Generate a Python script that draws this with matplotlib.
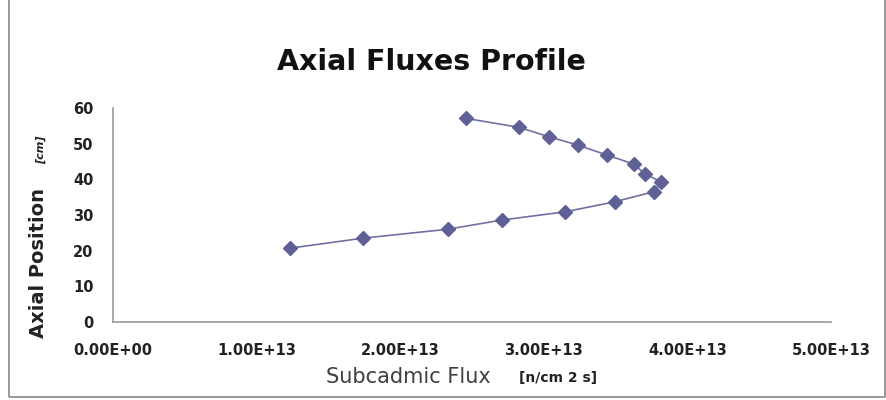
import matplotlib
matplotlib.use("Agg")
import matplotlib.pyplot as plt
from matplotlib.patches import Rectangle

flux = [2.456e13, 2.826e13, 3.035e13, 3.238e13, 3.44e13, 3.625e13, 3.706e13, 3.817e13,
        3.764e13, 3.493e13, 3.15e13, 2.71e13, 2.33e13, 1.74e13, 1.234e13]
position = [57.1, 54.6, 51.95, 49.6, 46.8, 44.3, 41.5, 39.3,
            36.5, 33.7, 30.9, 28.6, 26.0, 23.5, 20.7]
x_ticks = [0, 1e13, 2e13, 3e13, 4e13, 5e13]
x_tick_labels = ["0.00E+00", "1.00E+13", "2.00E+13", "3.00E+13", "4.00E+13", "5.00E+13"]
y_ticks = [0, 10, 20, 30, 40, 50, 60]

W, H = 887, 400
fig = plt.figure(figsize=(8.87, 4.0), dpi=100)
ax = fig.add_axes([113/W, 1-322/H, 718/W, 214/H])

ax.plot(flux, position, color="#6f70a3", linewidth=1.2, marker="D", markersize=7,
        markerfacecolor="#5f6096", markeredgecolor="#5f6096", zorder=3)

ax.set_xlim(0, 5e13)
ax.set_ylim(0, 60)
ax.set_xticks(x_ticks)
ax.set_xticklabels(x_tick_labels)
ax.set_yticks(y_ticks)
ax.tick_params(length=0, labelsize=10.5, colors="#222222")
ax.tick_params(axis="x", pad=15)
ax.tick_params(axis="y", pad=14)
for lab in ax.get_xticklabels() + ax.get_yticklabels():
    lab.set_fontweight("bold")
for s in ["top", "right"]:
    ax.spines[s].set_visible(False)
for s in ["left", "bottom"]:
    ax.spines[s].set_color("#999999")
    ax.spines[s].set_linewidth(1.2)

fig.text(431/W, 1-70/H, "Axial Fluxes Profile", ha="center", va="baseline",
         fontsize=20.5, fontweight="bold", color="#111111")
fig.text(408/W, 1-383/H, "Subcadmic Flux", ha="center", va="baseline",
         fontsize=15, color="#404040")
fig.text(558/W, 1-382/H, "[n/cm 2 s]", ha="center", va="baseline",
         fontsize=10, fontweight="bold", color="#222222")
fig.text(39/W, 1-263/H, "Axial Position", ha="center", va="center",
         fontsize=14, fontweight="bold", color="#222222", rotation=90)
fig.text(41/W, 1-150/H, "[cm]", ha="center", va="center",
         fontsize=8, fontweight="bold", style="italic", color="#222222", rotation=90)

fig.patches.append(Rectangle((9/W, 3/H), 876/W, 1.0, transform=fig.transFigure,
                             fill=False, edgecolor="#888888", linewidth=1.2))

fig.savefig("out.png", dpi=100)
